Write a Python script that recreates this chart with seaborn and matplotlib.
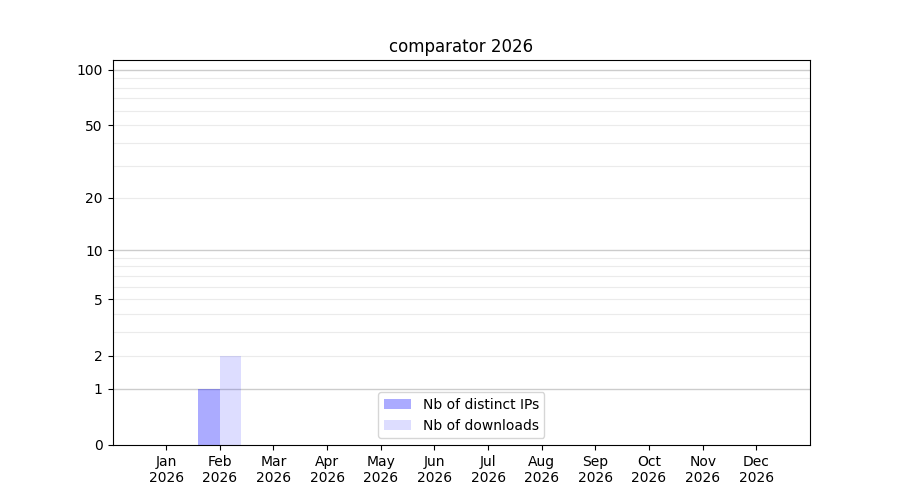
import matplotlib
matplotlib.use('Agg')
import matplotlib.pyplot as plt
import seaborn as sns
import pandas as pd
import numpy as np

# monthly stats
months = ['Jan', 'Feb', 'Mar', 'Apr', 'May', 'Jun', 'Jul', 'Aug', 'Sep', 'Oct', 'Nov', 'Dec']
year = '2026'
distinct_ips = [0, 1, 0, 0, 0, 0, 0, 0, 0, 0, 0, 0]
downloads = [0, 2, 0, 0, 0, 0, 0, 0, 0, 0, 0, 0]
series_names = ['Nb of distinct IPs', 'Nb of downloads']
ytick_vals = [0, 1, 2, 5, 10, 20, 50, 100]

labels = [f'{m}\n{year}' for m in months]
df = pd.DataFrame({
    'month': labels * 2,
    'series': [series_names[0]] * 12 + [series_names[1]] * 12,
    'value': distinct_ips + downloads,
})

fig, ax = plt.subplots(figsize=(9, 5), dpi=100)
ax.set_yscale('function', functions=(lambda v: np.log10(1 + np.clip(v, 0, None)),
                                     lambda v: 10 ** v - 1))

# grid lines: decades darker, intermediate values lighter
for v in [2, 3, 4, 5, 6, 7, 8, 9, 20, 30, 40, 50, 60, 70, 80, 90]:
    ax.axhline(v, color='#ebebeb', lw=0.8, zorder=0.5)
for v in [1, 10, 100]:
    ax.axhline(v, color='#cccccc', lw=1, zorder=0.5)

sns.barplot(data=df, x='month', y='value', hue='series', order=labels,
            hue_order=series_names, palette=['#0000ff', '#0000ff'],
            saturation=1, width=0.8, ax=ax, linewidth=0, errorbar=None)

for patch, a in zip(ax.patches, [0.33] * 12 + [0.135] * 12):
    patch.set_alpha(a)
    patch.set_zorder(1)

ax.set_xlim(-1, 12)
ax.set_ylim(0, 113)
ax.set_yticks(ytick_vals)
ax.set_yticklabels([str(v) for v in ytick_vals])
ax.yaxis.set_minor_locator(matplotlib.ticker.NullLocator())
ax.set_xlabel('')
ax.set_ylabel('')
ax.set_title('comparator 2026')

handles, _ = ax.get_legend_handles_labels()
leg = ax.legend(handles=handles, labels=series_names, loc='lower center')
for h, a in zip(leg.legend_handles, [0.33, 0.135]):
    h.set_alpha(a)

plt.savefig('out.png', dpi=100)
